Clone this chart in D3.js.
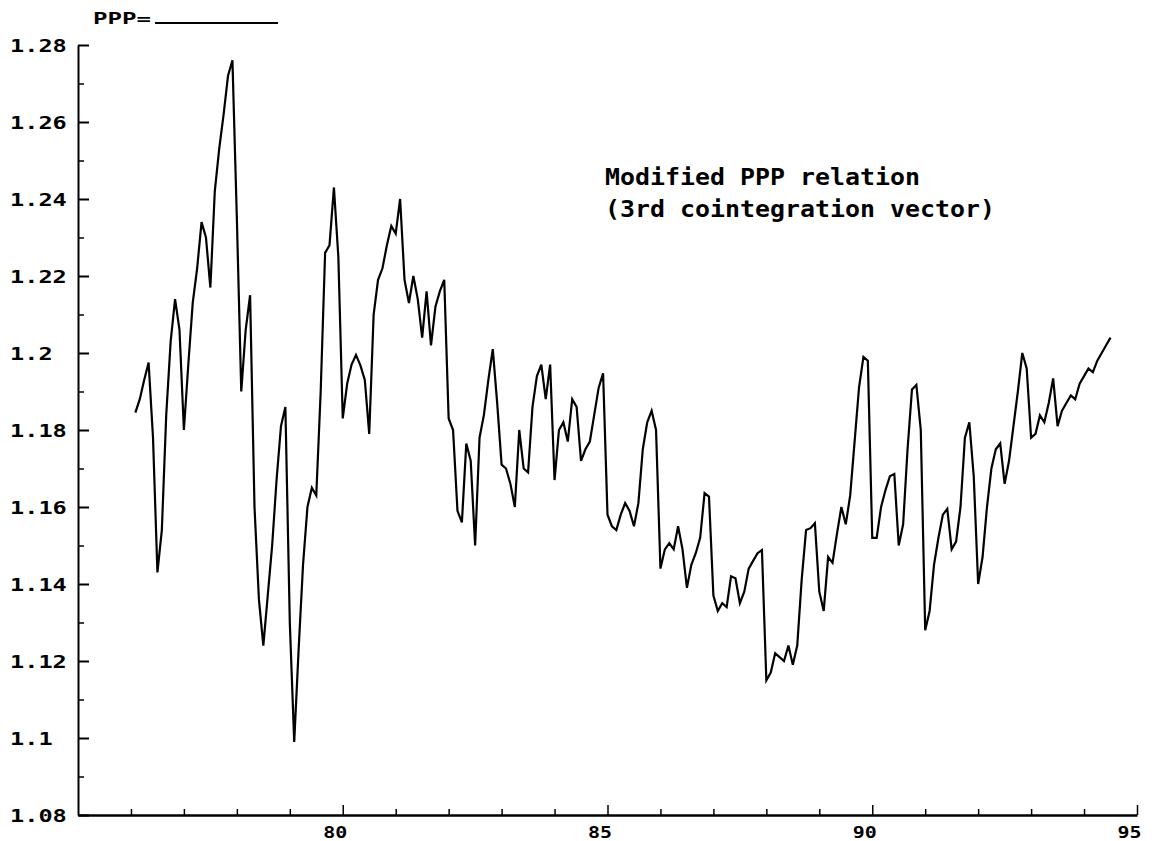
<!DOCTYPE html>
<html>
<head>
<meta charset="utf-8">
<script src="https://cdn.jsdelivr.net/npm/d3@7"></script>
<style>
  html, body { margin: 0; padding: 0; background: #fff; }
  svg { display: block; }
  text { font-family: "DejaVu Sans Mono", "Liberation Mono", monospace; font-weight: bold; fill: #000; }
</style>
</head>
<body>
<svg id="chart" width="1154" height="841"></svg>
<script>
// ---- data (monthly observations, first = 1976:2) ----
const startYear = 76;
const startMonth = 2;
const pppValues = [
  1.1845, 1.188, 1.193, 1.1975, 1.178, 1.143, 1.154, 1.184, 1.203, 1.214,
  1.206, 1.180, 1.197, 1.213, 1.222, 1.234, 1.230, 1.217, 1.242, 1.253,
  1.262, 1.272, 1.276, 1.235, 1.190, 1.206, 1.215, 1.160, 1.136, 1.124,
  1.137, 1.150, 1.167, 1.181, 1.186, 1.130, 1.099, 1.123, 1.145, 1.160,
  1.165, 1.163, 1.190, 1.226, 1.228, 1.243, 1.225, 1.183, 1.192, 1.197,
  1.1995, 1.1968, 1.193, 1.179, 1.210, 1.219, 1.222, 1.228, 1.233, 1.231,
  1.240, 1.219, 1.213, 1.220, 1.214, 1.204, 1.216, 1.202, 1.212, 1.216,
  1.219, 1.183, 1.180, 1.159, 1.156, 1.1765, 1.172, 1.150, 1.178, 1.184,
  1.193, 1.201, 1.187, 1.171, 1.170, 1.166, 1.160, 1.180, 1.170, 1.169,
  1.186, 1.194, 1.197, 1.188, 1.197, 1.167, 1.180, 1.182, 1.177, 1.188,
  1.186, 1.172, 1.175, 1.177, 1.184, 1.191, 1.1947, 1.158, 1.155, 1.154,
  1.158, 1.161, 1.159, 1.155, 1.161, 1.175, 1.182, 1.185, 1.180, 1.144,
  1.149, 1.1506, 1.149, 1.155, 1.149, 1.139, 1.145, 1.148, 1.152, 1.1636,
  1.1627, 1.137, 1.133, 1.135, 1.134, 1.142, 1.1415, 1.135, 1.138, 1.144,
  1.146, 1.148, 1.1488, 1.115, 1.117, 1.122, 1.121, 1.120, 1.124, 1.119,
  1.124, 1.141, 1.154, 1.1545, 1.1558, 1.138, 1.133, 1.147, 1.1455, 1.153,
  1.160, 1.1555, 1.163, 1.177, 1.191, 1.199, 1.198, 1.152, 1.152, 1.160,
  1.1644, 1.168, 1.1686, 1.150, 1.1555, 1.175, 1.1905, 1.1917, 1.180, 1.128,
  1.133, 1.145, 1.152, 1.158, 1.1595, 1.149, 1.151, 1.160, 1.178, 1.182,
  1.168, 1.140, 1.147, 1.160, 1.170, 1.175, 1.1765, 1.166, 1.172, 1.181,
  1.190, 1.200, 1.196, 1.178, 1.179, 1.1838, 1.182, 1.187, 1.1934, 1.181,
  1.185, 1.187, 1.189, 1.188, 1.192, 1.194, 1.196, 1.195, 1.198, 1.200,
  1.202, 1.204
];
const xDomain = [75, 95];
const yDomain = [1.08, 1.28];
const xMajorTicks = [80, 85, 90, 95];
const xMinorTicks = [76, 77, 78, 79, 81, 82, 83, 84, 86, 87, 88, 89, 91, 92, 93, 94];
const yMajorTicks = [1.08, 1.10, 1.12, 1.14, 1.16, 1.18, 1.20, 1.22, 1.24, 1.26, 1.28];
const yTickLabels = ["1.08", "1.1", "1.12", "1.14", "1.16", "1.18", "1.2", "1.22", "1.24", "1.26", "1.28"];
const yMinorTicks = [1.09, 1.11, 1.13, 1.15, 1.17, 1.19, 1.21, 1.23, 1.25, 1.27];
const legendLabel = "PPP=";
const titleLines = ["Modified PPP relation", "(3rd cointegration vector)"];

// ---- layout ----
const plotL = 78, plotR = 1137, plotT = 45, plotB = 815;
const svg = d3.select("#chart");

const x = d3.scaleLinear().domain(xDomain).range([plotL, plotR]);
const y = d3.scaleLinear().domain(yDomain).range([plotB, plotT]);

const series = pppValues.map((v, i) => ({ t: startYear + (startMonth - 1 + i) / 12, v }));

// y axis (ticks pointing inward)
const yAxisMajor = d3.axisLeft(y).tickValues(yMajorTicks).tickSizeInner(-11).tickSizeOuter(0)
  .tickFormat((d, i) => yTickLabels[i]);
const gy = svg.append("g").attr("transform", `translate(${plotL},0)`).call(yAxisMajor);
gy.select(".domain").attr("stroke", "#000").attr("stroke-width", 2);
gy.selectAll(".tick line").attr("stroke", "#000").attr("stroke-width", 2);
gy.selectAll(".tick text")
  .attr("text-anchor", "start")
  .attr("x", 10 - plotL)
  .attr("dy", "0.36em")
  .attr("font-size", 17)
  .attr("textLength", function () { return this.textContent.length * 14.2; })
  .attr("lengthAdjust", "spacingAndGlyphs");

const yAxisMinor = d3.axisLeft(y).tickValues(yMinorTicks).tickSizeInner(-6).tickSizeOuter(0).tickFormat("");
const gym = svg.append("g").attr("transform", `translate(${plotL},0)`).call(yAxisMinor);
gym.select(".domain").remove();
gym.selectAll(".tick line").attr("stroke", "#000").attr("stroke-width", 1.5);

// x axis (ticks pointing inward)
const xAxisMajor = d3.axisBottom(x).tickValues(xMajorTicks).tickSizeInner(-10).tickSizeOuter(0)
  .tickFormat(d => String(d));
const gx = svg.append("g").attr("transform", `translate(0,${plotB})`).call(xAxisMajor);
gx.select(".domain").attr("stroke", "#000").attr("stroke-width", 2.5);
gx.selectAll(".tick line").attr("stroke", "#000").attr("stroke-width", 1.5);
gx.selectAll(".tick text")
  .attr("x", -8)
  .attr("y", 23)
  .attr("dy", 0)
  .attr("font-size", 16)
  .attr("textLength", 24)
  .attr("lengthAdjust", "spacingAndGlyphs");

const xAxisMinor = d3.axisBottom(x).tickValues(xMinorTicks).tickSizeInner(-6).tickSizeOuter(0).tickFormat("");
const gxm = svg.append("g").attr("transform", `translate(0,${plotB})`).call(xAxisMinor);
gxm.select(".domain").remove();
gxm.selectAll(".tick line").attr("stroke", "#000").attr("stroke-width", 1.5);

// series line
const line = d3.line().x(d => x(d.t)).y(d => y(d.v));
svg.append("path")
  .datum(series)
  .attr("fill", "none")
  .attr("stroke", "#000")
  .attr("stroke-width", 2.2)
  .attr("stroke-linejoin", "miter")
  .attr("d", line);

// legend at top
svg.append("text")
  .attr("x", 93).attr("y", 24)
  .attr("font-family", "'Liberation Mono', 'Courier New', monospace")
  .attr("font-size", 16)
  .attr("textLength", 58)
  .attr("lengthAdjust", "spacingAndGlyphs")
  .text(legendLabel);
svg.append("line")
  .attr("x1", 155).attr("x2", 278)
  .attr("y1", 23).attr("y2", 23)
  .attr("stroke", "#000").attr("stroke-width", 2);

// annotation
svg.selectAll("text.title")
  .data(titleLines)
  .enter().append("text")
  .attr("class", "title")
  .attr("x", 605)
  .attr("y", (d, i) => 185 + i * 32)
  .attr("font-size", 23)
  .attr("textLength", d => d.length * 15)
  .attr("lengthAdjust", "spacingAndGlyphs")
  .text(d => d);
</script>
</body>
</html>
